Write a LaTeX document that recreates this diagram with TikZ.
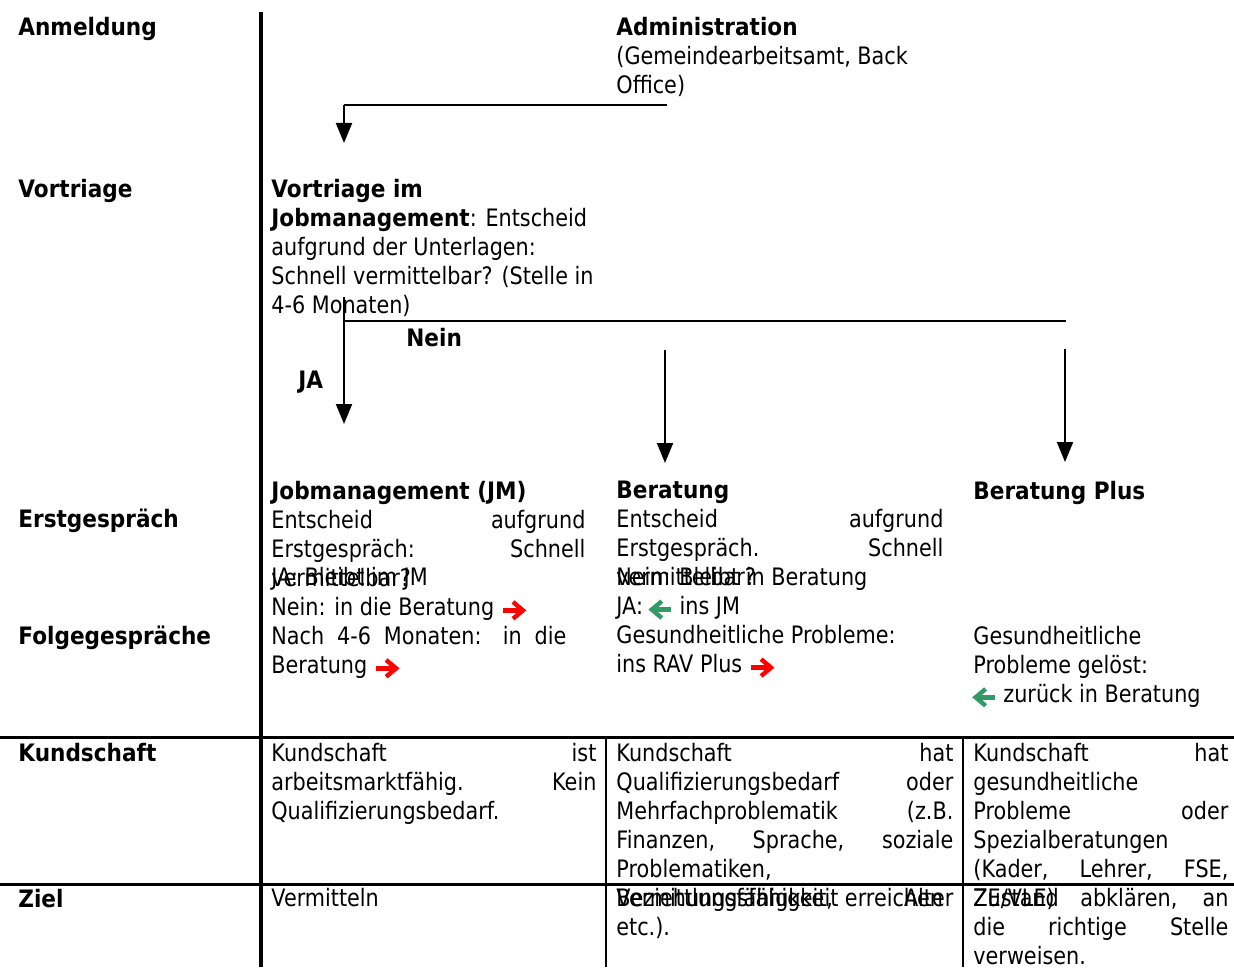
\documentclass[tikz,border=0pt]{standalone}
\usepackage{fontspec}
\setmainfont{DejaVu Sans}[UprightFeatures={FakeStretch=0.865}, BoldFeatures={FakeStretch=0.9}]
\usetikzlibrary{arrows.meta}
\definecolor{pfeilrot}{RGB}{255,0,0}
\definecolor{pfeilgruen}{RGB}{51,153,102}
\newcommand{\redarr}{\tikz[baseline=-2.5pt]{\draw[pfeilrot, line width=2.2pt] (0pt,0pt) -- (9.5pt,0pt);
  \draw[pfeilrot, line width=2.2pt, miter limit=10] (5pt,4.2pt) -- (10pt,0pt) -- (5pt,-4.2pt);}}
\newcommand{\greenarr}{\tikz[baseline=-2.5pt]{\draw[pfeilgruen, line width=2.2pt] (0.5pt,0pt) -- (10pt,0pt);
  \draw[pfeilgruen, line width=2.2pt, miter limit=10] (5.5pt,4.2pt) -- (0.5pt,0pt) -- (5.5pt,-4.2pt);}}
\tikzset{
  txt/.style={anchor=north west, yshift=9.15pt, inner sep=0pt, align=left,
    font=\fontsize{12}{14.5}\selectfont, execute at begin node=\strut},
  lbl/.style={txt, font=\fontsize{12}{14.5}\selectfont\bfseries},
  flow/.style={line width=1pt, -{Triangle[length=10pt, width=8pt]}}
}
\begin{document}
\begin{tikzpicture}[x=0.5pt, y=-0.5pt]
  \useasboundingbox (0,0) rectangle (1234,967);

  % row labels
  \node[lbl] (anm) at (18,33) {Anmeldung};
  \node[lbl] (vor) at (18,195) {Vortriage};
  \node[lbl] (erst) at (18,525) {Erstgespräch};
  \node[lbl] (folg) at (18,642) {Folgegespräche};
  \node[lbl] (kund) at (18,759) {Kundschaft};
  \node[lbl] (ziel) at (18,905) {Ziel};

  % grid
  \draw[line width=2pt] (261,12) -- (261,967);
  \draw[line width=1.5pt] (0,737) -- (1234,737);
  \draw[line width=1.5pt] (0,884) -- (1234,884);
  \draw[line width=1pt] (606,737) -- (606,967);
  \draw[line width=1pt] (963,737) -- (963,967);

  % flow part
  \node[txt] (adm) at (616,35) {\textbf{Administration}\\(Gemeindearbeitsamt, Back\\Office)};
  \node[txt] (vt) at (271,197) {\textbf{Vortriage im}\\\textbf{Jobmanagement}: Entscheid\\aufgrund der Unterlagen:\\Schnell vermittelbar? (Stelle in\\4-6 Monaten)};

  \coordinate (A1) at (667,105);
  \coordinate (A2) at (344,105);
  \coordinate (A3) at (344,143);
  \draw[line width=1pt] (A1) -- (A2);
  \draw[flow] (A2) -- (A3);

  \coordinate (V0) at (344,297);
  \coordinate (V1) at (344,321);
  \coordinate (V2) at (1066,321);
  \coordinate (JA) at (344,424);
  \coordinate (B0) at (665,350);
  \coordinate (B1) at (665,463);
  \coordinate (P0) at (1065,349);
  \coordinate (P1) at (1065,462);
  \draw[line width=1pt] (V1) -- (V2);
  \draw[flow] (V0) -- (JA);
  \draw[flow] (B0) -- (B1);
  \draw[flow] (P0) -- (P1);
  \node[lbl] (nein) at (406,344) {Nein};
  \node[lbl] (ja) at (298,386) {JA};

  \node[txt] (jm) at (271,499) {\textbf{Jobmanagement (JM)}\\\makebox[157pt][s]{Entscheid aufgrund}\\\makebox[157pt][s]{Erstgespräch: Schnell}\\vermittelbar?\\Nein: in die Beratung \redarr\\\makebox[147.5pt][s]{Nach 4-6 Monaten: in die}\\Beratung \redarr};
  \node[txt] (jmja) at (271,583) {JA: Bleibt im JM};

  \node[txt] (ber) at (616,499) {\textbf{Beratung}\\\makebox[163.5pt][s]{Entscheid aufgrund}\\\makebox[163.5pt][s]{Erstgespräch. Schnell}\\vermittelbar?\\JA: \greenarr{} ins JM\\Gesundheitliche Probleme:\\ins RAV Plus \redarr};
  \node[txt] (bernein) at (616,583) {Nein: Bleibt in Beratung};

  \node[txt] (bp) at (973,497) {\textbf{Beratung Plus}};
  \node[txt] (bpf) at (973,644) {Gesundheitliche\\Probleme gelöst:\\\greenarr{} zurück in Beratung};

  % table
  \node[txt] (k1) at (271,761) {\makebox[162.5pt][s]{Kundschaft ist}\\\makebox[162.5pt][s]{arbeitsmarktfähig. Kein}\\Qualifizierungsbedarf.};
  \node[txt] (k2) at (616,761) {\makebox[168.5pt][s]{Kundschaft hat}\\\makebox[168.5pt][s]{Qualifizierungsbedarf oder}\\\makebox[168.5pt][s]{Mehrfachproblematik (z.B.}\\\makebox[168.5pt][s]{Finanzen, Sprache, soziale}\\Problematiken,\\\makebox[168.5pt][s]{Beziehungsfähigkeit, Alter}\\etc.).};
  \node[txt] (k3) at (973,761) {\makebox[127.5pt][s]{Kundschaft hat}\\gesundheitliche\\\makebox[127.5pt][s]{Probleme oder}\\Spezialberatungen\\\makebox[127.5pt][s]{(Kader, Lehrer, FSE,}\\ZE/VLE)};
  \node[txt] (z1) at (271,904) {Vermitteln};
  \node[txt] (z2) at (616,904) {Vermittlungsfähigkeit erreichen};
  \node[txt] (z3) at (973,906) {\makebox[127.5pt][s]{Zustand abklären, an}\\\makebox[127.5pt][s]{die richtige Stelle}\\verweisen.};
\end{tikzpicture}
\end{document}
